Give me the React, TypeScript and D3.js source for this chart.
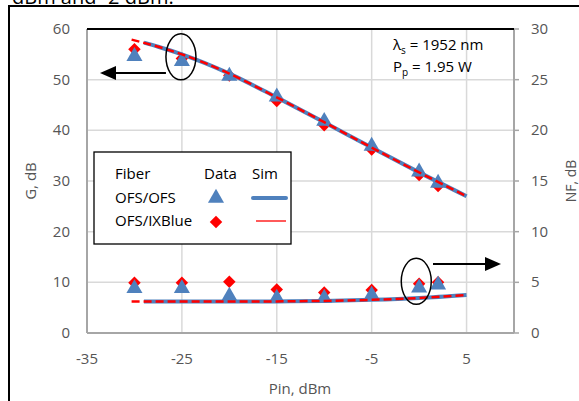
import React from "react";
import * as d3 from "d3";

// measured points
const pinData = [-30, -25, -20, -15, -10, -5, 0, 2];
const gainOFS = [54.6, 53.6, 50.7, 46.6, 41.8, 36.9, 31.8, 29.6];
const gainIX = [56.0, 54.2, 50.8, 45.8, 41.0, 36.2, 31.2, 29.0];
const nfOFS = [4.4, 4.4, 3.65, 3.45, 3.45, 3.75, 4.45, 4.75];
const nfIX = [4.95, 4.95, 5.05, 4.3, 4.0, 4.25, 4.85, 5.0];

// simulation curves
const pinSimOFS = [-29, -27.5, -25, -20, -15, -10, -5, 0, 5];
const gainSimOFS = [57.3, 56.5, 55.0, 51.2, 46.5, 41.6, 36.6, 31.7, 27.0];
const pinSimIX = [-30.3, -27.5, -25, -20, -15, -10, -5, 0, 5];
const gainSimIX = [57.9, 56.5, 55.0, 51.2, 46.5, 41.6, 36.6, 31.7, 27.0];
const nfSimOFS = [3.1, 3.1, 3.1, 3.1, 3.12, 3.17, 3.27, 3.45, 3.75];
const nfSimIX = [3.1, 3.1, 3.1, 3.1, 3.12, 3.17, 3.27, 3.45, 3.75];

const xTicks = [-35, -25, -15, -5, 5];
const gTicks = [0, 10, 20, 30, 40, 50, 60];
const nfTicks = [0, 5, 10, 15, 20, 25, 30];

const blue = "#4f81bd";
const red = "#ff0000";
const grid = "#d9d9d9";
const axisGray = "#a6a6a6";
const labelGray = "#555555";
const font = "'Open Sans', 'Liberation Sans', Arial, sans-serif";

const left = 87;
const right = 514;
const top = 29;
const bottom = 333;

const x = d3.scaleLinear().domain([-35, 10]).range([left, right]);
const yG = d3.scaleLinear().domain([0, 60]).range([bottom, top]);
const yNF = d3.scaleLinear().domain([0, 30]).range([bottom, top]);

const tri = d3.symbol().type(d3.symbolTriangle).size(112)();
const dia = d3.symbol().type(d3.symbolSquare).size(78)();

function Diamond({ cx, cy }: { cx: number; cy: number }) {
  return <path d={dia!} transform={`translate(${cx},${cy}) rotate(45)`} fill={red} />;
}

function Triangle({ cx, cy }: { cx: number; cy: number }) {
  return <path d={tri!} transform={`translate(${cx},${cy})`} fill={blue} />;
}

export default function App() {
  const line = d3.line<number>().curve(d3.curveMonotoneX);
  const simPath = (xs: number[], ys: number[], ys2: (v: number) => number) =>
    line.x((_, i) => x(xs[i])).y((v) => ys2(v))(ys) || "";

  return (
    <svg
      width={579}
      height={401}
      style={{ position: "absolute", left: 0, top: 0 }}
      fontFamily={font}
    >
      <rect width={579} height={401} fill="#fff" />
      <text x={12} y={4} fontSize={20} fill="#000">dBm and -2 dBm.</text>
      {/* outer chart frame */}
      <rect x={9} y={6} width={590} height={420} fill="none" stroke="#000" strokeWidth={2} />

      {/* gridlines */}
      {gTicks.filter((t) => t > 0 && t < 60).map((t) => (
        <line key={"h" + t} x1={left} x2={right} y1={yG(t)} y2={yG(t)} stroke={grid} strokeWidth={1.5} />
      ))}
      {xTicks.filter((t) => t > -35).map((t) => (
        <line key={"v" + t} x1={x(t)} x2={x(t)} y1={top} y2={bottom} stroke={grid} strokeWidth={1.5} />
      ))}

      {/* plot border */}
      <line x1={left} x2={left} y1={top} y2={bottom} stroke={axisGray} strokeWidth={2} />
      <line x1={left} x2={right} y1={bottom} y2={bottom} stroke={axisGray} strokeWidth={2} />
      <line x1={right} x2={right} y1={top} y2={bottom} stroke={axisGray} strokeWidth={2} />
      <line x1={left} x2={right} y1={top} y2={top} stroke="#000" strokeWidth={2} />
      {nfTicks.map((t) => (
        <line key={"rt" + t} x1={right} x2={right + 5} y1={yNF(t)} y2={yNF(t)} stroke={axisGray} strokeWidth={1.5} />
      ))}

      {/* tick labels */}
      {gTicks.map((t) => (
        <text key={"gl" + t} x={70} y={yG(t) + 5} textAnchor="end" fontSize={15} fill={labelGray}>{t}</text>
      ))}
      {nfTicks.map((t) => (
        <text key={"nl" + t} x={531} y={yNF(t) + 5} fontSize={15} fill={labelGray}>{t}</text>
      ))}
      {xTicks.map((t) => (
        <text key={"xl" + t} x={x(t)} y={364} textAnchor="middle" fontSize={15} fill={labelGray}>{t}</text>
      ))}

      {/* axis titles */}
      <text x={300} y={394} textAnchor="middle" fontSize={15} fill={labelGray}>Pin, dBm</text>
      <text transform={`translate(36,${(top + bottom) / 2}) rotate(-90)`} textAnchor="middle" fontSize={15} fill={labelGray}>G, dB</text>
      <text transform={`translate(576,${(top + bottom) / 2}) rotate(-90)`} textAnchor="middle" fontSize={14} fill={labelGray}>NF, dB</text>

      {/* data markers */}
      {pinData.map((p, i) => (
        <g key={"m" + i}>
          <Diamond cx={x(p)} cy={yG(gainIX[i])} />
          <Diamond cx={x(p)} cy={yNF(nfIX[i])} />
          <Triangle cx={x(p)} cy={yG(gainOFS[i])} />
          <Triangle cx={x(p)} cy={yNF(nfOFS[i])} />
        </g>
      ))}

      {/* simulations */}
      <path d={simPath(pinSimOFS, gainSimOFS, yG)} fill="none" stroke={blue} strokeWidth={4} />
      <path d={simPath(pinSimOFS, nfSimOFS, yNF)} fill="none" stroke={blue} strokeWidth={4} />
      <path d={simPath(pinSimIX, gainSimIX, yG)} fill="none" stroke={red} strokeWidth={2.5} strokeDasharray="8,4" />
      <path d={simPath(pinSimIX, nfSimIX, yNF)} fill="none" stroke={red} strokeWidth={2.5} strokeDasharray="8,4" />

      {/* annotations */}
      <ellipse cx={x(-25.1)} cy={yG(54.5)} rx={15} ry={23} fill="none" stroke="#000" strokeWidth={1.5} />
      <line x1={x(-25.1) - 15} x2={112} y1={73} y2={73} stroke="#000" strokeWidth={2} />
      <path d="M100,73 L116,66 L116,80 Z" fill="#000" />
      <ellipse cx={x(-0.3)} cy={yNF(5.1)} rx={15} ry={23} fill="none" stroke="#000" strokeWidth={1.5} />
      <line x1={433} x2={488} y1={264} y2={264} stroke="#000" strokeWidth={2} />
      <path d="M501,264 L485,257 L485,271 Z" fill="#000" />

      <text x={393} y={50} fontSize={15} fill="#000">λ<tspan fontSize={10} dy={4}>s</tspan><tspan dy={-4}> = 1952 nm</tspan></text>
      <text x={393} y={72} fontSize={15} fill="#000">P<tspan fontSize={10} dy={4}>p</tspan><tspan dy={-4}> = 1.95 W</tspan></text>

      {/* legend */}
      <rect x={94} y={152} width={197} height={92} fill="#fff" stroke="#000" strokeWidth={1.3} />
      <text x={115} y={179} fontSize={15} fill="#000">Fiber</text>
      <text x={204} y={179} fontSize={15} fill="#000">Data</text>
      <text x={252} y={179} fontSize={15} fill="#000">Sim</text>
      <text x={115} y={203} fontSize={15} fill="#000">OFS/OFS</text>
      <text x={115} y={226} fontSize={15} fill="#000">OFS/IXBlue</text>
      <Triangle cx={216} cy={198} />
      <Diamond cx={216} cy={222} />
      <line x1={253} x2={286} y1={198} y2={198} stroke={blue} strokeWidth={4} strokeLinecap="round" />
      <line x1={256} x2={286} y1={221} y2={221} stroke={red} strokeWidth={1.3} />
    </svg>
  );
}
